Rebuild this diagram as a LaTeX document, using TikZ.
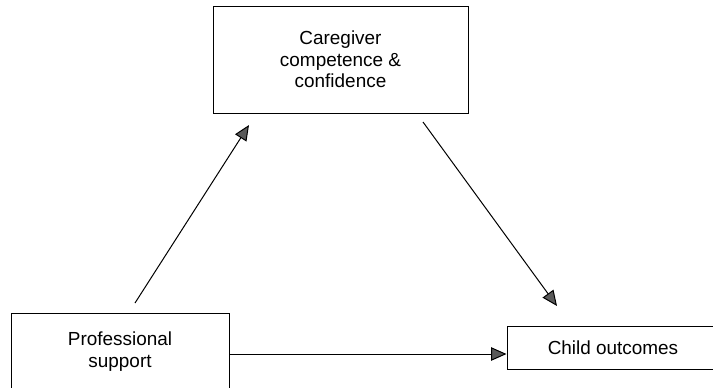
\documentclass[tikz,border=0pt]{standalone}
\usepackage{fontspec}
\setmainfont{Liberation Sans}
\usetikzlibrary{arrows.meta}

\tikzset{every picture/.style={line width=0.75pt}}
\tikzset{
  box/.style={draw, rectangle, inner sep=0pt, align=center, font=\fontsize{14.2}{16}\selectfont},
  arr/.style={-{Triangle[length=11.5pt,width=10pt,fill={rgb, 255:red, 90; green, 90; blue, 90 }]}}
}

\begin{document}
\begin{tikzpicture}[x=0.75pt,y=0.75pt,yscale=-1,xscale=1]
\useasboundingbox (0,0) rectangle (713,387);

%Shape: Rectangle [id:cgcomp]
\node[box, minimum width=255*0.75pt, minimum height=107*0.75pt] (cg) at (340.5,59.5) {Caregiver\\competence \&\\confidence};
%Shape: Rectangle [id:prof]
\node[box, minimum width=218*0.75pt, minimum height=77*0.75pt] (ps) at (120,351.5) {Professional\\support};
%Shape: Rectangle [id:child]
\node[box, minimum width=212*0.75pt, minimum height=43*0.75pt] (co) at (613,347.5) {Child outcomes};

%free ends of the diagonal lines
\coordinate (psup) at (135,303);
\coordinate (cgin) at (249,125);
\coordinate (cgout) at (423,122);
\coordinate (coin) at (557,306);

%Straight Lines [id:up]
\draw[arr] (psup) -- (cgin);
%Straight Lines [id:down]
\draw[arr] (cgout) -- (coin);
%Straight Lines [id:across]
\draw[arr] (ps.east |- 0,354) -- (co.west |- 0,354);

\end{tikzpicture}
\end{document}
